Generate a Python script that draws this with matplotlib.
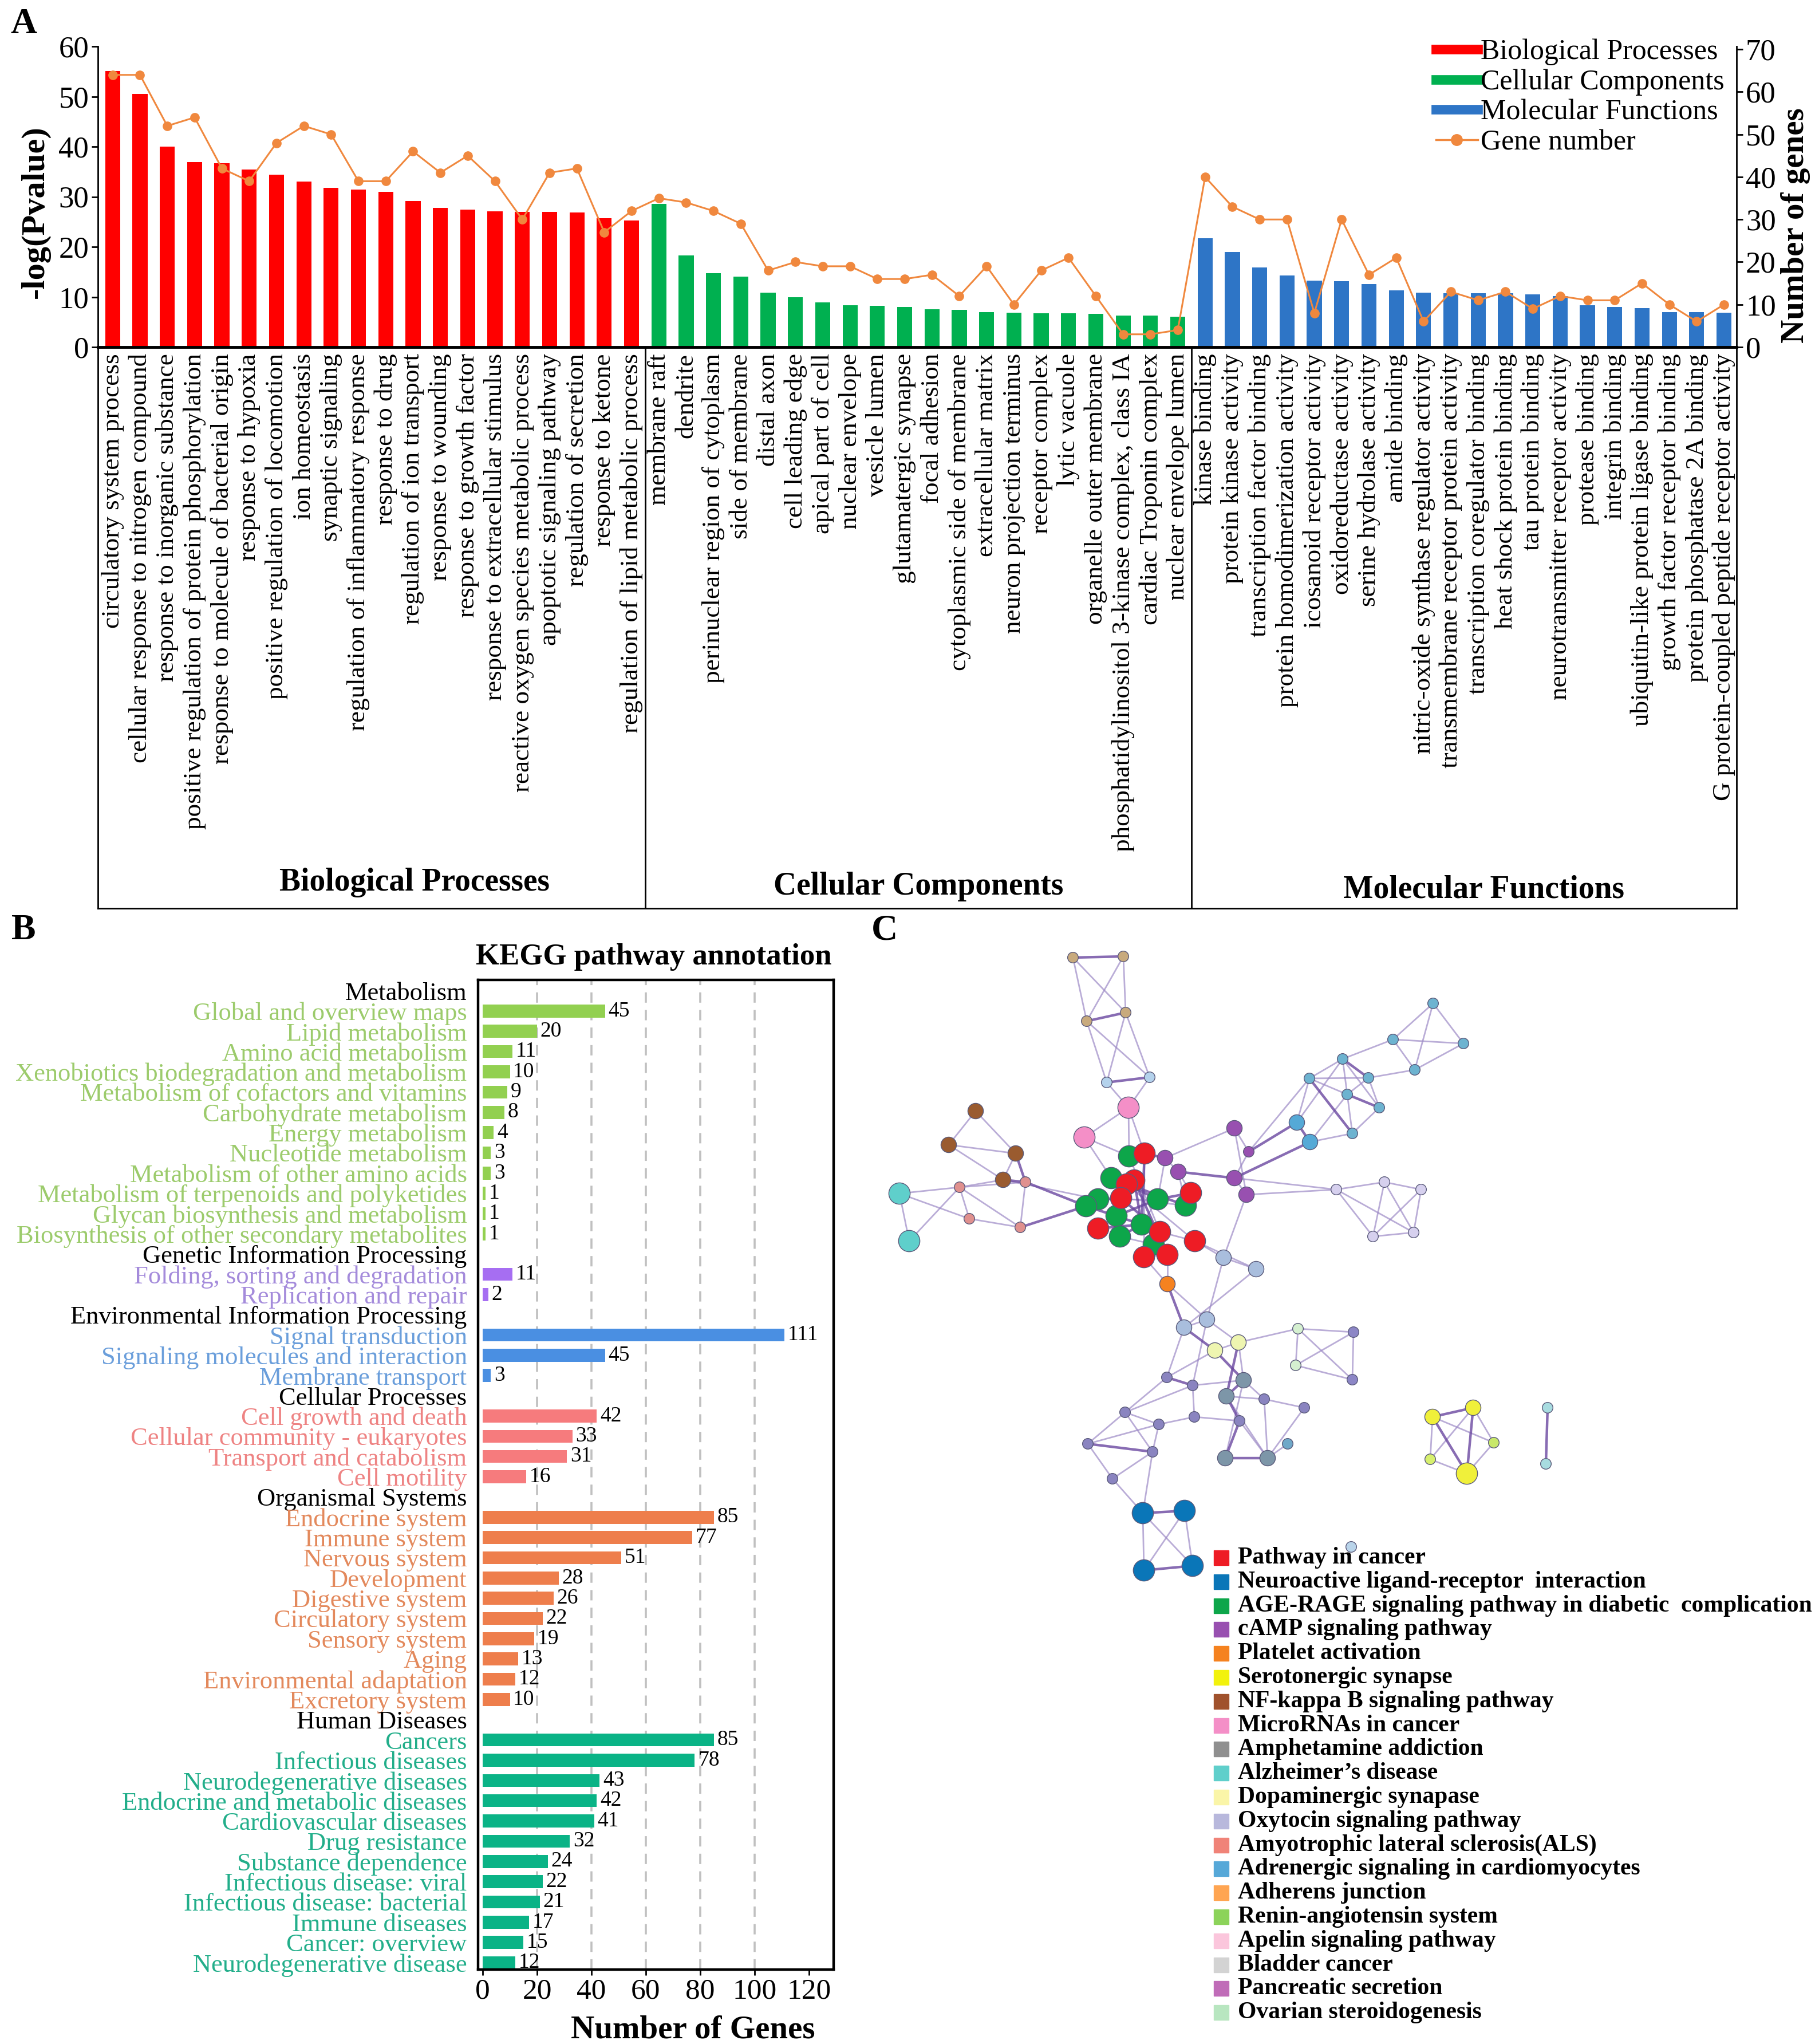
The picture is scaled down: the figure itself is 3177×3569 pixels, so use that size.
import matplotlib
matplotlib.use('Agg')
import matplotlib.pyplot as plt
from matplotlib.lines import Line2D
from matplotlib.collections import LineCollection
import numpy as np

plt.rcParams['font.family'] = ['Liberation Serif', 'DejaVu Serif']
plt.rcParams['mathtext.default'] = 'regular'

# ---------------- Panel A data ----------------
bp_terms = ['circulatory system process', 'cellular response to nitrogen compound',
            'response to inorganic substance', 'positive regulation of protein phosphorylation',
            'response to molecule of bacterial origin', 'response to hypoxia',
            'positive regulation of locomotion', 'ion homeostasis', 'synaptic signaling',
            'regulation of inflammatory response', 'response to drug',
            'regulation of ion transport', 'response to wounding', 'response to growth factor',
            'response to extracellular stimulus', 'reactive oxygen species metabolic process',
            'apoptotic signaling pathway', 'regulation of secretion', 'response to ketone',
            'regulation of lipid metabolic process']
bp_logp = [55.1, 50.5, 40.0, 36.9, 36.7, 35.4, 34.4, 33.0, 31.8, 31.4,
           31.0, 29.1, 27.8, 27.4, 27.1, 27.0, 27.0, 26.9, 25.7, 25.3]
bp_genes = [64, 64, 52, 54, 42, 39, 48, 52, 50, 39, 39, 46, 41, 45, 39, 30, 41, 42, 27, 32]

cc_terms = ['membrane raft', 'dendrite', 'perinuclear region of cytoplasm', 'side of membrane',
            'distal axon', 'cell leading edge', 'apical part of cell', 'nuclear envelope',
            'vesicle lumen', 'glutamatergic synapse', 'focal adhesion',
            'cytoplasmic side of membrane', 'extracellular matrix', 'neuron projection terminus',
            'receptor complex', 'lytic vacuole', 'organelle outer membrane',
            'phosphatidylinositol 3-kinase complex, class IA', 'cardiac Troponin complex',
            'nuclear envelope lumen']
cc_logp = [28.6, 18.3, 14.8, 14.1, 10.9, 10.0, 8.9, 8.4, 8.2, 8.0,
           7.5, 7.4, 7.0, 6.9, 6.8, 6.7, 6.6, 6.3, 6.3, 6.1]
cc_genes = [35, 34, 32, 29, 18, 20, 19, 19, 16, 16, 17, 12, 19, 10, 18, 21, 12, 3, 3, 4]

mf_terms = ['kinase binding', 'protein kinase activity', 'transcription factor binding',
            'protein homodimerization activity', 'icosanoid receptor activity',
            'oxidoreductase activity', 'serine hydrolase activity', 'amide binding',
            'nitric-oxide synthase regulator activity',
            'transmembrane receptor protein activity', 'transcription coregulator binding',
            'heat shock protein binding', 'tau protein binding',
            'neurotransmitter receptor activity', 'protease binding', 'integrin binding',
            'ubiquitin-like protein ligase binding', 'growth factor receptor binding',
            'protein phosphatase 2A binding', 'G protein-coupled peptide receptor activity']
mf_logp = [21.7, 19.0, 15.9, 14.3, 13.3, 13.2, 12.6, 11.3, 10.9, 10.8,
           10.8, 10.7, 10.5, 10.2, 8.3, 8.0, 7.8, 7.0, 7.0, 6.9]
mf_genes = [40, 33, 30, 30, 8, 30, 17, 21, 6, 13, 11, 13, 9, 12, 11, 11, 15, 10, 6, 10]

go_groups = ['Biological Processes', 'Cellular Components', 'Molecular Functions']
go_legend = ['Biological Processes', 'Cellular Components', 'Molecular Functions', 'Gene number']

# ---------------- Panel B data ----------------
kegg_headers = ['Metabolism', 'Genetic Information Processing',
                'Environmental Information Processing', 'Cellular Processes',
                'Organismal Systems', 'Human Diseases']
metabolism_terms = ['Global and overview maps', 'Lipid metabolism', 'Amino acid metabolism',
                    'Xenobiotics biodegradation and metabolism',
                    'Metabolism of cofactors and vitamins', 'Carbohydrate metabolism',
                    'Energy metabolism', 'Nucleotide metabolism',
                    'Metabolism of other amino acids', 'Metabolism of terpenoids and polyketides',
                    'Glycan biosynthesis and metabolism',
                    'Biosynthesis of other secondary metabolites']
metabolism_counts = [45, 20, 11, 10, 9, 8, 4, 3, 3, 1, 1, 1]
genetic_terms = ['Folding, sorting and degradation', 'Replication and repair']
genetic_counts = [11, 2]
environmental_terms = ['Signal transduction', 'Signaling molecules and interaction',
                       'Membrane transport']
environmental_counts = [111, 45, 3]
cellular_terms = ['Cell growth and death', 'Cellular community - eukaryotes',
                  'Transport and catabolism', 'Cell motility']
cellular_counts = [42, 33, 31, 16]
organismal_terms = ['Endocrine system', 'Immune system', 'Nervous system', 'Development',
                    'Digestive system', 'Circulatory system', 'Sensory system', 'Aging',
                    'Environmental adaptation', 'Excretory system']
organismal_counts = [85, 77, 51, 28, 26, 22, 19, 13, 12, 10]
disease_terms = ['Cancers', 'Infectious diseases', 'Neurodegenerative diseases',
                 'Endocrine and metabolic diseases', 'Cardiovascular diseases',
                 'Drug resistance', 'Substance dependence', 'Infectious disease: viral',
                 'Infectious disease: bacterial', 'Immune diseases', 'Cancer: overview',
                 'Neurodegenerative disease']
disease_counts = [85, 78, 43, 42, 41, 32, 24, 22, 21, 17, 15, 12]

# ---------------- Panel C data ----------------
pathway_names = ['Pathway in cancer', 'Neuroactive ligand-receptor  interaction',
                 'AGE-RAGE signaling pathway in diabetic  complication',
                 'cAMP signaling pathway', 'Platelet activation', 'Serotonergic synapse',
                 'NF-kappa B signaling pathway', 'MicroRNAs in cancer',
                 'Amphetamine addiction', 'Alzheimer\u2019s disease', 'Dopaminergic synapase',
                 'Oxytocin signaling pathway', 'Amyotrophic lateral sclerosis(ALS)',
                 'Adrenergic signaling in cardiomyocytes', 'Adherens junction',
                 'Renin-angiotensin system', 'Apelin signaling pathway', 'Bladder cancer',
                 'Pancreatic secretion', 'Ovarian steroidogenesis']
pathway_colors = ['#EE1C25', '#0A76B8', '#0DA64A', '#9850B0', '#F5821F', '#F2F20C',
                  '#A0522D', '#F48FC7', '#8F8F8F', '#5FCFCB', '#FAF5A8', '#B8B8DC',
                  '#F08378', '#56A8D8', '#FFA552', '#8CD35A', '#FBC6DC', '#D3D3D3',
                  '#C06CB8', '#B8E6C0']

node_x = [1874, 1962, 1898, 1966, 1933, 2008, 1971, 1894, 1704, 1657, 1774, 1752, 1571, 1588,
          1676, 1693, 1782, 1791,
          1972, 1941, 1918, 1897, 1950, 1956, 1994, 2022, 2071, 2015,
          1999, 1981, 1968, 1958, 2080, 1918, 2026, 2087, 1998, 2039,
          2035, 2058, 2156, 2181, 2156, 2177, 2039,
          2137, 2194, 2068, 2108, 2334, 2418, 2482, 2398, 2469,
          2122, 2163, 2267, 2364, 2263, 2362,
          2503, 2556, 2433, 2471, 2345, 2287, 2390, 2353, 2409, 2362, 2265, 2288,
          2038, 2083, 2172, 2142, 2208, 2278, 2086, 2165, 1965, 2024, 1900, 2013, 1943,
          2140, 2214, 2249,
          1996, 2069, 1998, 2083,
          2502, 2573, 2562, 2609, 2498, 2703, 2700, 2360]
node_y = [1672, 1670, 1783, 1768, 1890, 1881, 1934, 1986, 1940, 1999, 2014, 2060, 2084, 2167,
          2073, 2128, 2143, 2064,
          2019, 2057, 2094, 2106, 2123, 2159, 2138, 2094, 2105, 2173,
          2014, 2061, 2068, 2092, 2083, 2145, 2151, 2167, 2195, 2191,
          2022, 2046, 1970, 2011, 2057, 2086, 2242,
          2196, 2216, 2318, 2304, 2077, 2064, 2077, 2159, 2152,
          2358, 2344, 2320, 2326, 2384, 2409,
          1752, 1822, 1815, 1868, 1849, 1883, 1882, 1911, 1934, 1979, 1960, 1994,
          2405, 2419, 2410, 2438, 2443, 2458, 2474, 2481, 2466, 2487, 2521, 2535, 2582,
          2546, 2546, 2521,
          2642, 2638, 2742, 2734,
          2474, 2458, 2573, 2519, 2548, 2458, 2556, 2701]
node_color = (['#C8AA7D'] * 4 + ['#B4D2EC'] * 2 + ['#F48FC7'] * 2 + ['#9A5B2F'] * 4 +
              ['#5FCFCB'] * 2 + ['#E0908E'] * 4 + ['#0DA64A'] * 10 + ['#EE1C25'] * 10 +
              ['#9850B0'] * 6 + ['#F5821F'] + ['#A9BEDD'] * 4 + ['#D6D0EE'] * 5 +
              ['#EEF5B0'] * 2 + ['#D5F0D0', '#8C86C6', '#D5F0D0', '#8C86C6'] +
              ['#6DB3D0'] * 10 + ['#55A9D6'] * 2 +
              ['#8A84C0', '#8A84C0', '#7D96A8', '#7D96A8', '#8A84C0', '#8A84C0', '#8A84C0',
               '#8A84C0', '#8A84C0', '#8A84C0', '#8A84C0', '#8A84C0', '#8A84C0', '#7D96A8',
               '#7D96A8', '#6FA8C8'] +
              ['#0A76B8'] * 4 + ['#F0F03A', '#F0F03A', '#F0F03A', '#C8E86A', '#D7F06E'] +
              ['#A8DCE0', '#A8DCE0', '#B9D4EA'])
node_level = ([1] * 4 + [1] * 2 + [3] * 2 + [2] * 4 + [3] * 2 + [1] * 4 + [3] * 20 +
              [2, 2, 2, 1, 2, 2, 2] + [2] * 4 + [1] * 5 + [2] * 2 + [1] * 4 +
              [1] * 10 + [2] * 2 +
              [1, 1, 2, 2, 1, 1, 1, 1, 1, 1, 1, 1, 1, 2, 2, 1] +
              [3] * 4 + [2, 2, 3, 1, 1] + [1, 1, 1])
edges_strong = [(0, 1), (2, 3), (4, 5), (88, 89), (90, 91), (92, 93), (18, 28), (19, 29),
                (20, 31), (29, 24), (30, 25), (31, 34), (28, 24), (22, 25), (33, 24),
                (27, 36), (24, 34), (26, 32), (25, 32), (39, 42), (38, 28), (42, 71),
                (41, 70), (65, 69), (64, 66), (70, 71), (67, 68), (44, 47), (47, 54),
                (54, 74), (55, 75), (74, 75), (75, 79), (79, 85), (85, 86), (72, 73),
                (82, 83), (10, 17), (11, 17), (17, 21), (16, 21), (93, 94), (92, 94),
                (97, 98), (21, 24), (19, 26), (29, 37), (23, 24)]
edges_weak = [(0, 2), (1, 3), (0, 3), (1, 2), (2, 4), (3, 5), (2, 5), (3, 4), (4, 6), (5, 6),
              (6, 7), (6, 28), (6, 18), (7, 18), (7, 19), (8, 9), (8, 10), (9, 10), (10, 11),
              (9, 11), (14, 17), (11, 14), (12, 14), (12, 15), (13, 14), (12, 13), (14, 15),
              (15, 16), (16, 17), (14, 16), (11, 20), (21, 20), (22, 31), (24, 25),
              (27, 34), (36, 37), (34, 35), (37, 44), (36, 44), (23, 27), (30, 35),
              (18, 34), (28, 36), (31, 26), (20, 25), (33, 22), (38, 39), (39, 32),
              (38, 40), (40, 41), (41, 42), (42, 43), (40, 43), (42, 49), (43, 49), (43, 45),
              (41, 65), (38, 25), (39, 26), (49, 50), (50, 51), (49, 52), (50, 53), (51, 53),
              (52, 53), (49, 53), (50, 52), (51, 52), (60, 61), (60, 62), (61, 63), (62, 63),
              (61, 62), (60, 63), (62, 64), (63, 66), (64, 65), (65, 66), (64, 67), (65, 67),
              (66, 67), (66, 68), (67, 69), (68, 69), (64, 68), (65, 70), (69, 71), (70, 64),
              (71, 67), (35, 45), (35, 46), (45, 46), (44, 48), (45, 48), (46, 47), (47, 48),
              (48, 55), (54, 55), (55, 56), (56, 57), (56, 58), (57, 59), (58, 59), (56, 59),
              (57, 58), (54, 72), (55, 74), (47, 72), (48, 73), (73, 74), (75, 76), (76, 77),
              (74, 76), (72, 80), (73, 78), (78, 79), (75, 86), (76, 86), (77, 86), (86, 87),
              (80, 81), (80, 82), (81, 83), (80, 83), (81, 82), (82, 84), (83, 84), (78, 81),
              (73, 80), (83, 88), (84, 88), (88, 90), (89, 91), (88, 91), (89, 90), (79, 86),
              (74, 85), (92, 96), (93, 95), (94, 95), (94, 96), (92, 95), (93, 96)]

# ---------------- styles ----------------
W, H = 3177, 3569
fig = plt.figure(figsize=(W / 100, H / 100), dpi=100)


def rect(x0, y0, x1, y1):
    return [x0 / W, 1 - y1 / H, (x1 - x0) / W, (y1 - y0) / H]


go_colors = ['#FF0000', '#00B050', '#2E75C6']
line_color = '#F0883E'

# ================= Panel A =================
terms = bp_terms + cc_terms + mf_terms
logp = bp_logp + cc_logp + mf_logp
genes = bp_genes + cc_genes + mf_genes
bar_cols = [go_colors[0]] * len(bp_terms) + [go_colors[1]] * len(cc_terms) + \
           [go_colors[2]] * len(mf_terms)
xpos = np.arange(len(terms))
XL = (-0.54, len(terms) - 0.54)

axA = fig.add_axes(rect(171, 81, 3033, 606))
axA.bar(xpos, logp, width=0.55, color=bar_cols, zorder=2)
axA.set_xlim(*XL)
axA.set_ylim(0, 60)
axA.set_yticks(range(0, 61, 10))
axA.set_xticks(xpos)
axA.set_xticklabels(terms, rotation=90, fontsize=32.5, va='top', ha='center')
axA.tick_params(axis='x', length=0, pad=8)
axA.tick_params(axis='y', labelsize=38, width=2, length=8)
for s in ['top', 'right']:
    axA.spines[s].set_visible(False)
axA.spines['left'].set_linewidth(2)
axA.spines['bottom'].set_linewidth(3.5)
axA.set_ylabel('-log(Pvalue)', fontsize=42, fontweight='bold')
axA.yaxis.set_label_coords(-0.029, 0.45)

axA2 = axA.twinx()
axA2.plot(xpos, genes, color=line_color, lw=2.2, marker='o', ms=11, zorder=3)
axA2.set_ylim(0, 70.7)
axA2.set_yticks(range(0, 71, 10))
axA2.tick_params(axis='y', labelsize=38, width=2, length=8)
for s in ['top', 'left', 'bottom']:
    axA2.spines[s].set_visible(False)
axA2.spines['right'].set_linewidth(2)
axA2.set_ylabel('Number of genes', fontsize=41, fontweight='bold')
axA2.yaxis.set_label_coords(1.027, 0.404)

handles = [Line2D([], [], color=c, lw=12) for c in go_colors] + \
          [Line2D([], [], color=line_color, lw=2.5, marker='o', ms=14)]
axA2.legend(handles, go_legend, loc='upper left', bbox_to_anchor=(2508 / W, 1 - 68 / H),
            bbox_transform=fig.transFigure, frameon=False, fontsize=36,
            handlelength=1.45, handletextpad=0.1, labelspacing=0.12, borderpad=0,
            borderaxespad=0)

axBox = fig.add_axes(rect(171, 606, 3033, 1586))
axBox.set_facecolor('none')
axBox.set_xlim(*XL)
axBox.set_ylim(0, 1)
axBox.set_xticks([])
axBox.set_yticks([])
for s in axBox.spines.values():
    s.set_linewidth(2)
n1 = len(bp_terms)
n2 = n1 + len(cc_terms)
axBox.axvline(n1 - 0.5, color='black', lw=2)
axBox.axvline(n2 - 0.5, color='black', lw=2)
for name, gx, gy in zip(go_groups, [11.05, 29.5, 50.2], [0.046, 0.039, 0.033]):
    axBox.text(gx, gy, name, ha='center', va='center', fontsize=40, fontweight='bold')

# ================= Panel B =================
groups = [(metabolism_terms, metabolism_counts, '#92D050', '#9CCB6C'),
          (genetic_terms, genetic_counts, '#A66EF2', '#A48BDB'),
          (environmental_terms, environmental_counts, '#4A8FE2', '#6A9EDB'),
          (cellular_terms, cellular_counts, '#F67B7D', '#EE8383'),
          (organismal_terms, organismal_counts, '#EE7E4C', '#E3895C'),
          (disease_terms, disease_counts, '#0AB386', '#22AE8A')]
labels, lab_cols, bars = [], [], []
for hdr, (tl, cl, bc, tc) in zip(kegg_headers, groups):
    labels.append(hdr)
    lab_cols.append('black')
    for t, c in zip(tl, cl):
        bars.append((len(labels), c, bc))
        labels.append(t)
        lab_cols.append(tc)

axB = fig.add_axes(rect(835, 1711, 1456, 3439))
for yy, c, bc in bars:
    axB.barh(yy, c, height=0.64, color=bc, zorder=2)
    axB.text(c + 1.2, yy, str(c), va='center', ha='left', fontsize=27, zorder=3)
axB.set_ylim(len(labels) - 0.66, -0.54)
axB.set_xlim(-1.7, 129.1)
for gx in [20, 40, 60, 80, 100]:
    axB.axvline(gx, color='#C0C0C0', lw=2.6, ls=(0, (5, 3.5)), zorder=1)
axB.set_yticks(np.arange(len(labels)))
axB.set_yticklabels(labels, fontsize=32)
for tl, c in zip(axB.get_yticklabels(), lab_cols):
    tl.set_color(c)
axB.tick_params(axis='y', length=0, pad=14)
axB.set_xticks(range(0, 121, 20))
axB.tick_params(axis='x', labelsize=37, width=2, length=7, pad=4)
for s in axB.spines.values():
    s.set_linewidth(3.2)
axB.set_xlabel('Number of Genes', fontsize=41, fontweight='bold')
axB.xaxis.set_label_coords(0.605, -0.046)
axB.text(0.494, 1.023, 'KEGG pathway annotation', transform=axB.transAxes, ha='center',
         va='center', fontsize=38, fontweight='bold')

# ================= Panel C =================
axC = fig.add_axes(rect(1500, 1600, 3177, 3569))
axC.set_xlim(1500, 3177)
axC.set_ylim(3569, 1600)
axC.axis('off')
pts = np.column_stack([node_x, node_y])
weak = LineCollection([pts[[a, b]] for a, b in edges_weak], colors='#9D8AC6',
                      linewidths=2.0, alpha=0.7, zorder=1)
strong = LineCollection([pts[[a, b]] for a, b in edges_strong], colors='#6A47A0',
                        linewidths=3.2, alpha=0.8, zorder=2)
axC.add_collection(weak)
axC.add_collection(strong)
size_map = {1: 180, 2: 380, 3: 720}
axC.scatter(node_x, node_y, s=[size_map[v] for v in node_level], c=node_color,
            edgecolors='#5A5A7A', linewidths=1.0, zorder=3)

# legend for the pathway classes (rows evenly spaced, like the reference)
leg_x0, leg_y0, leg_dy = 2133, 2720, 41.8
for i, (name, col) in enumerate(zip(pathway_names, pathway_colors)):
    yy = leg_y0 + i * leg_dy
    axC.plot([leg_x0], [yy], marker='s', ms=19, color=col, ls='', zorder=4)
    axC.text(leg_x0 + 29, yy, name, fontsize=30, fontweight='bold', ha='left',
             va='center', zorder=4)

# panel letters
for lt, lx, ly in [('A', 41, 43), ('B', 41, 1625), ('C', 1545, 1625)]:
    fig.text(lx / W, 1 - ly / H, lt, fontsize=46, fontweight='bold', ha='center',
             va='center')

fig.savefig('out.png', dpi=100)
